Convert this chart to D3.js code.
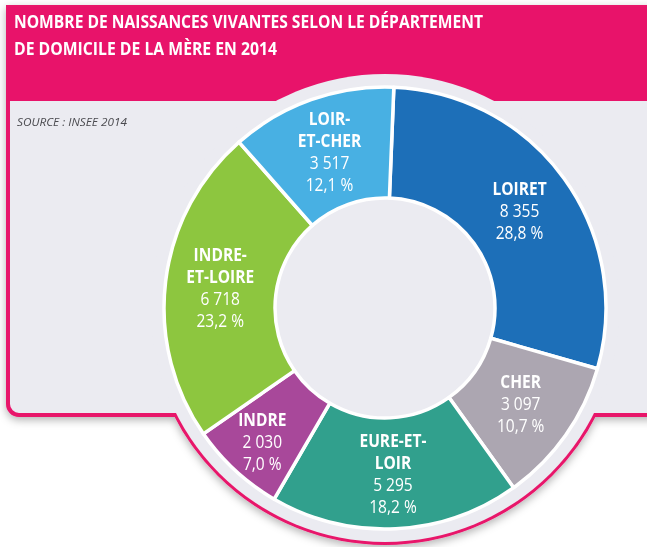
<!DOCTYPE html>
<html>
<head>
<meta charset="utf-8">
<script src="https://cdn.jsdelivr.net/npm/d3@7"></script>
<style>
  html, body { margin: 0; padding: 0; background: #fff; }
  svg { display: block; }
</style>
</head>
<body>
<div id="chart"></div>
<script>
// data
const departements = ["LOIRET", "CHER", "EURE-ET-LOIR", "INDRE", "INDRE-ET-LOIRE", "LOIR-ET-CHER"]
const nameLines = [["LOIRET"], ["CHER"], ["EURE-ET-", "LOIR"], ["INDRE"], ["INDRE-", "ET-LOIRE"], ["LOIR-", "ET-CHER"]]
const naissances = [8355, 3097, 5295, 2030, 6718, 3517]
const pourcentages = [28.8, 10.7, 18.2, 7.0, 23.2, 12.1]
const couleurs = ["#1d6fb8", "#aca6b1", "#31a08d", "#a8489a", "#8dc63f", "#48b0e3"]
const titre = ["NOMBRE DE NAISSANCES VIVANTES SELON LE DÉPARTEMENT", "DE DOMICILE DE LA MÈRE EN 2014"]
const source = "SOURCE : INSEE 2014"

const W = 647, H = 547
const pink = "#e8136a"
const panelBg = "#ebebf1"
const cx = 385, cy = 308
const discR = 235
const outerR = 221, innerR = 110
const font = "'Open Sans', 'DejaVu Sans Condensed', sans-serif"

const fr = d3.formatLocale({ decimal: ",", thousands: "\u00a0", grouping: [3], currency: ["", " €"] })
const fmtNum = fr.format(",d")
const fmtPct = fr.format(".1f")

const svg = d3.select("#chart").append("svg")
  .attr("width", W).attr("height", H)

const defs = svg.append("defs")
const shadow = defs.append("filter").attr("id", "shadow")
  .attr("x", "-10%").attr("y", "-10%").attr("width", "120%").attr("height", "130%")
shadow.append("feDropShadow")
  .attr("dx", 0).attr("dy", 3).attr("stdDeviation", 4)
  .attr("flood-color", "#000").attr("flood-opacity", 0.3)

defs.append("clipPath").attr("id", "below-panel")
  .append("rect").attr("x", 0).attr("y", 414).attr("width", W).attr("height", H)

// panel + disc (background shape)
const bg = svg.append("g").attr("filter", "url(#shadow)")

const panelPath = d3.path()
const px0 = 8, py0 = 7, px1 = 700, py1 = 415, rr = 11
panelPath.moveTo(px0, py0)
panelPath.lineTo(px1, py0)
panelPath.lineTo(px1, py1)
panelPath.lineTo(px0 + rr, py1)
panelPath.arcTo(px0, py1, px0, py1 - rr, rr)
panelPath.closePath()

bg.append("path").attr("d", panelPath.toString())
  .attr("fill", panelBg).attr("stroke", pink).attr("stroke-width", 4)

bg.append("circle").attr("cx", cx).attr("cy", cy).attr("r", discR)
  .attr("fill", panelBg).attr("stroke", pink).attr("stroke-width", 4)
  .attr("clip-path", "url(#below-panel)")

// header band
svg.append("rect").attr("x", px0).attr("y", py0)
  .attr("width", W - px0).attr("height", 94).attr("fill", pink)

// disc fill on top (hides the panel bottom stroke inside the disc)
svg.append("circle").attr("cx", cx).attr("cy", cy).attr("r", discR - 1)
  .attr("fill", panelBg)

// title
svg.append("g").selectAll("text").data(titre).join("text")
  .attr("x", 14)
  .attr("y", (d, i) => 28 + i * 27)
  .attr("fill", "#fff")
  .attr("font-family", font)
  .attr("font-weight", "bold")
  .attr("font-size", 18.5)
  .attr("textLength", (d, i) => i === 0 ? 469 : 263)
  .attr("lengthAdjust", "spacingAndGlyphs")
  .text(d => d)

svg.append("text")
  .attr("x", 17).attr("y", 126)
  .attr("fill", "#4a4a4f")
  .attr("font-family", font)
  .attr("font-style", "italic")
  .attr("font-size", 11)
  .attr("textLength", 110)
  .attr("lengthAdjust", "spacingAndGlyphs")
  .text(source)

// donut
const pie = d3.pie().sort(null).value(d => d)
  .startAngle(0.04).endAngle(0.04 + 2 * Math.PI)
const arcs = pie(naissances)

const arc = d3.arc().innerRadius(innerR).outerRadius(outerR)
// narrow slices get their label pushed a little further out
const labelRadius = d => (d.endAngle - d.startAngle < 0.5 ? 181 : 166)

const donut = svg.append("g").attr("transform", `translate(${cx},${cy})`)

donut.selectAll("path.slice").data(arcs).join("path")
  .attr("class", "slice")
  .attr("d", arc)
  .attr("fill", (d, i) => couleurs[i])
  .attr("stroke", "#fff")
  .attr("stroke-width", 3.5)
  .attr("stroke-linejoin", "round")

const lineH = 22
donut.selectAll("g.label").data(arcs).join("g")
  .attr("class", "label")
  .attr("transform", d => {
    const r = labelRadius(d)
    const [lx, ly] = d3.arc().innerRadius(r).outerRadius(r).centroid(d)
    return `translate(${lx},${ly}) scale(0.84,1)`
  })
  .each(function (d, i) {
    const lines = nameLines[i].map(t => ({ t, bold: true }))
      .concat([{ t: fmtNum(naissances[i]), bold: false }, { t: fmtPct(pourcentages[i]) + "\u00a0%", bold: false }])
    const n = lines.length
    d3.select(this).append("text")
      .attr("text-anchor", "middle")
      .attr("fill", "#fff")
      .attr("font-family", font)
      .attr("font-size", 18.5)
      .selectAll("tspan").data(lines).join("tspan")
      .attr("x", 0)
      .attr("y", (l, j) => (j - (n - 1) / 2) * lineH + 6.5)
      .attr("font-weight", l => l.bold ? "bold" : "normal")
      .text(l => l.t)
  })
</script>
</body>
</html>
